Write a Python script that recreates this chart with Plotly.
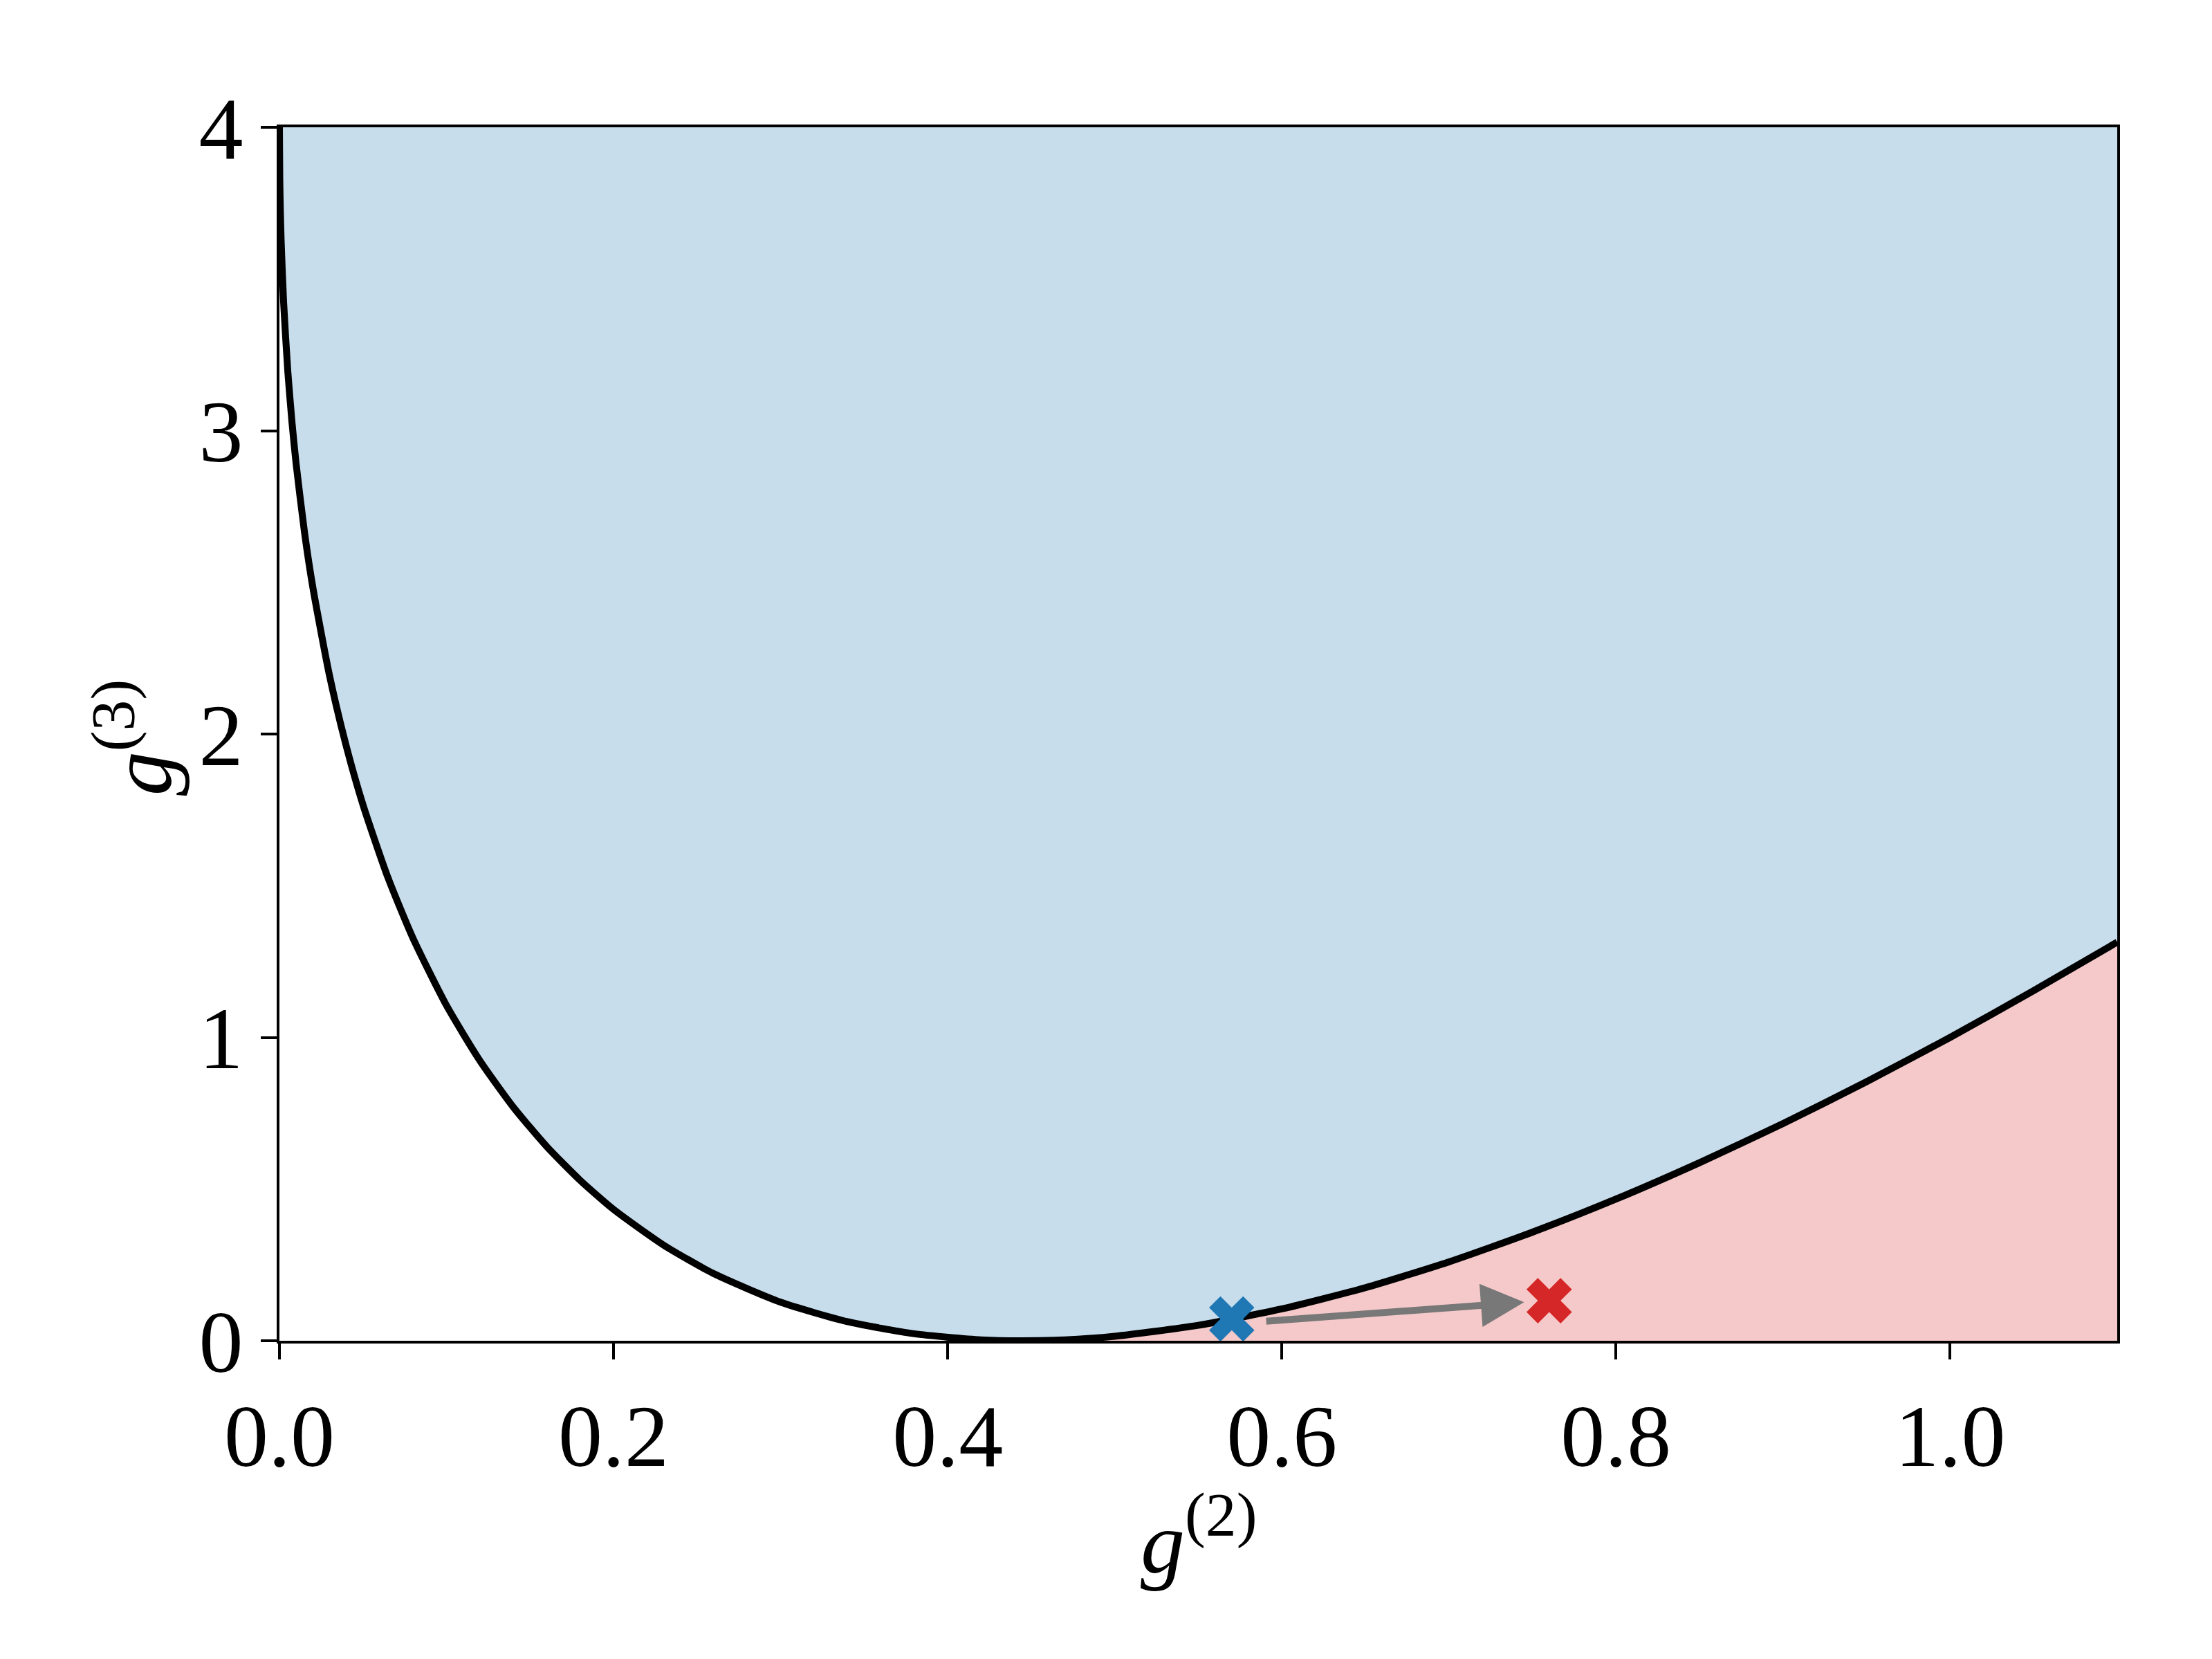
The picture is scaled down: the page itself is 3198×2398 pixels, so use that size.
import plotly.graph_objects as go

# boundary curve g3(g2)
g2_curve = [0.0, 0.0002, 0.0005, 0.001, 0.0025, 0.005, 0.0075, 0.01, 0.015, 0.02,
            0.03, 0.04, 0.05, 0.065, 0.08, 0.1, 0.12, 0.14, 0.16, 0.18,
            0.2, 0.23, 0.26, 0.3, 0.34, 0.38, 0.42, 0.444, 0.47, 0.5,
            0.55, 0.6, 0.65, 0.7, 0.75, 0.8, 0.85, 0.9, 0.95, 1.0,
            1.05, 1.1]
g3_curve = [4.0, 3.832, 3.736, 3.629, 3.423, 3.196, 3.028, 2.89, 2.665, 2.483,
            2.192, 1.96, 1.767, 1.526, 1.326, 1.105, 0.923, 0.770, 0.64, 0.529,
            0.433, 0.315, 0.221, 0.127, 0.063, 0.023, 0.003, 0.0, 0.003, 0.015,
            0.051, 0.105, 0.175, 0.260, 0.358, 0.467, 0.587, 0.716, 0.854, 1.0,
            1.154, 1.314]

# markers
blue_pt = (0.570, 0.072)
red_pt = (0.760, 0.132)
# arrow from / to
arrow_start = (0.590, 0.064)
arrow_end = (0.745, 0.127)

x_range = [0.0, 1.1]
y_range = [0.0, 4.0]
x_ticks = [0.0, 0.2, 0.4, 0.6, 0.8, 1.0]
y_ticks = [0, 1, 2, 3, 4]

x_title = "<i>g</i><sup>(2)</sup>"
y_title = "<i>g</i><sup>(3)</sup>"

BLUE_FILL = "rgba(31,119,180,0.25)"
RED_FILL = "rgba(214,39,40,0.25)"
FONT = "Liberation Serif"

fig = go.Figure()

# blue region above curve
fig.add_trace(go.Scatter(
    x=g2_curve + [x_range[1], x_range[0]],
    y=g3_curve + [y_range[1], y_range[1]],
    fill="toself", fillcolor=BLUE_FILL, line=dict(width=0), mode="lines",
    hoverinfo="skip", showlegend=False))

# red region below curve right of minimum
imin = g3_curve.index(min(g3_curve))
fig.add_trace(go.Scatter(
    x=g2_curve[imin:], y=g3_curve[imin:],
    fill="tozeroy", fillcolor=RED_FILL, line=dict(width=0), mode="lines",
    hoverinfo="skip", showlegend=False))

# boundary line
fig.add_trace(go.Scatter(
    x=g2_curve, y=g3_curve, mode="lines",
    line=dict(color="black", width=10, shape="spline", smoothing=0.6),
    showlegend=False))

# markers
fig.add_trace(go.Scatter(
    x=[blue_pt[0]], y=[blue_pt[1]], mode="markers",
    marker=dict(symbol="x", size=58, color="#1f77b4", line=dict(width=0)),
    showlegend=False))
fig.add_trace(go.Scatter(
    x=[red_pt[0]], y=[red_pt[1]], mode="markers",
    marker=dict(symbol="x", size=58, color="#d62728", line=dict(width=0)),
    showlegend=False))

fig.add_annotation(
    x=arrow_end[0], y=arrow_end[1], ax=arrow_start[0], ay=arrow_start[1],
    xref="x", yref="y", axref="x", ayref="y",
    text="", showarrow=True, arrowhead=2, arrowsize=1.25, arrowwidth=10,
    arrowcolor="#787878")

# axis titles
fig.add_annotation(
    text=x_title, xref="paper", yref="paper", x=0.500, y=-0.161,
    xanchor="center", yanchor="middle", showarrow=False,
    font=dict(family=FONT, size=128, color="black"))
fig.add_annotation(
    text=y_title, xref="paper", yref="paper", x=-0.079, y=0.497,
    xanchor="center", yanchor="middle", showarrow=False, textangle=-90,
    font=dict(family=FONT, size=128, color="black"))

axis_common = dict(
    showline=True, linecolor="black", linewidth=4, mirror=True,
    ticks="outside", ticklen=23, tickwidth=4, tickcolor="black",
    showgrid=False, zeroline=False,
    tickfont=dict(family=FONT, size=128, color="black"),
)

fig.update_xaxes(range=x_range, tickvals=x_ticks, tickformat=".1f", **axis_common)
fig.update_yaxes(range=y_range, tickvals=y_ticks, **axis_common)

fig.update_layout(
    width=3198, height=2398,
    margin=dict(l=396, r=145, t=176, b=468),
    plot_bgcolor="white", paper_bgcolor="white",
    showlegend=False,
)

fig.write_html("out.html")
